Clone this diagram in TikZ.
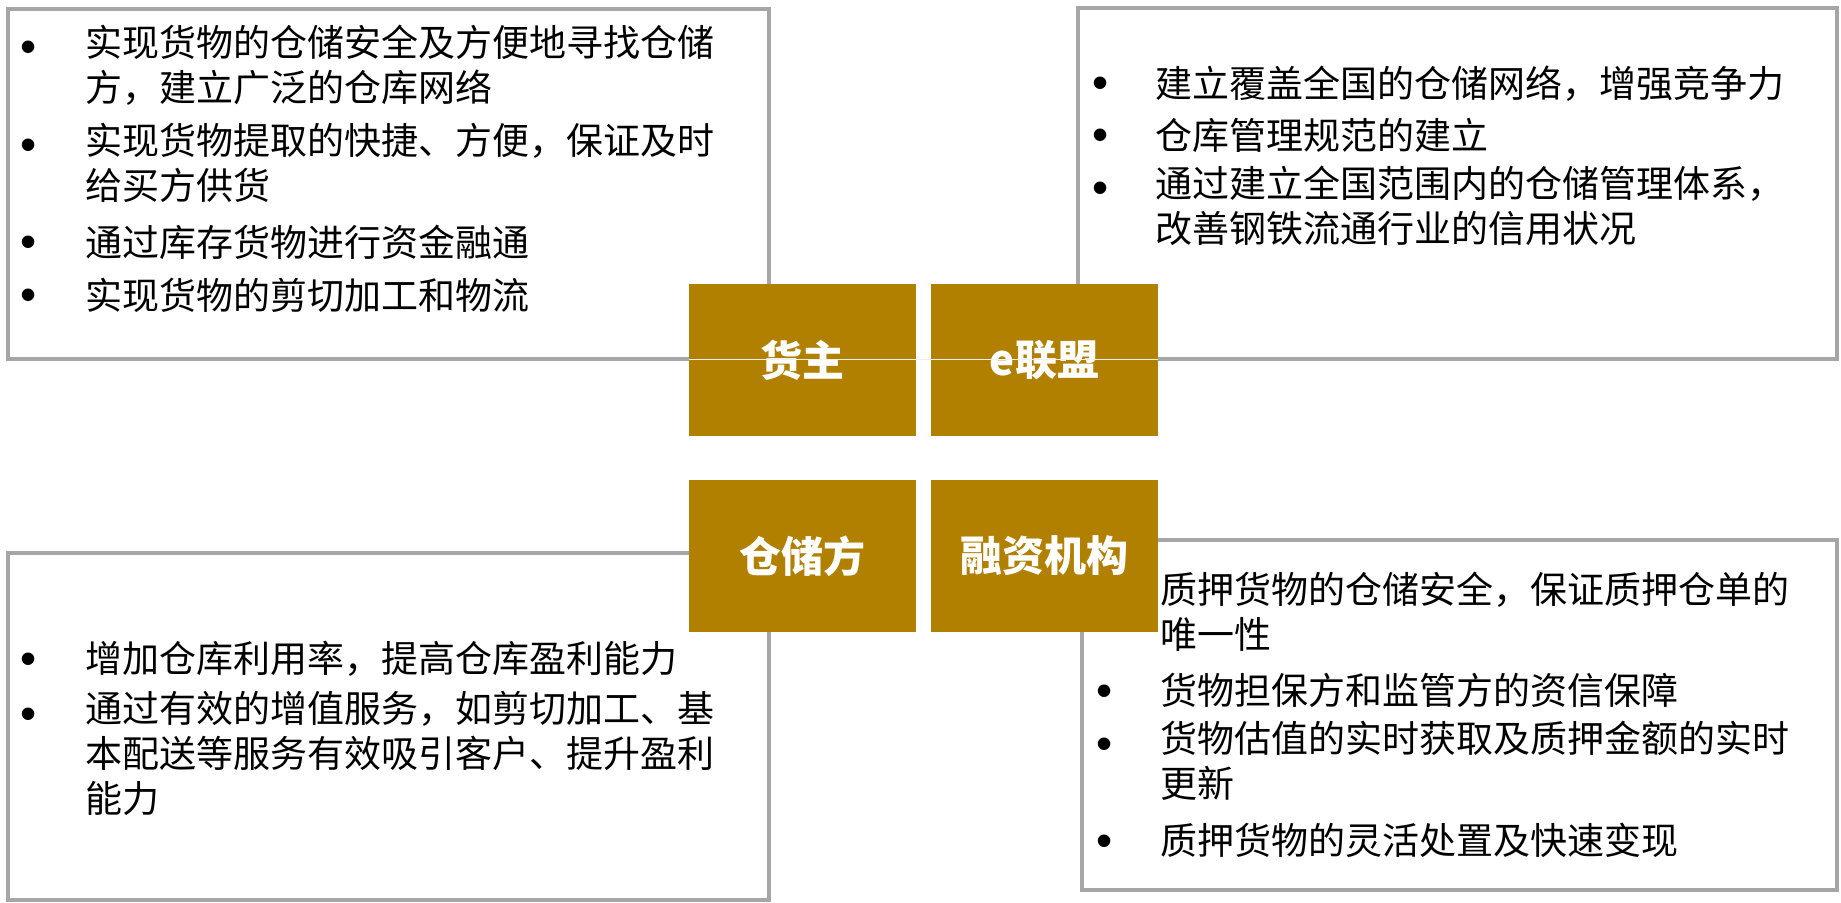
\documentclass[tikz,border=0pt]{standalone}
\usepackage{fontspec}
\newfontfamily\cjk{Noto Sans CJK SC}
\newfontfamily\dotfont{Liberation Sans}
\definecolor{boxgray}{RGB}{166,166,166}
\definecolor{gold}{RGB}{178,128,0}
\begin{document}
\begin{tikzpicture}[x=0.5pt, y=-0.5pt,
    panel/.style = {draw=boxgray, line width=2pt, inner sep=0},
    party/.style = {fill=gold, text=white, minimum width=113.5pt, minimum height=76pt, inner sep=0, font=\cjk\bfseries\fontsize{21pt}{25pt}\selectfont},
    item/.style = {anchor=north west, inner sep=0, align=left, font=\cjk\fontsize{18.5pt}{22.5pt}\selectfont, execute at begin node={\rule{0pt}{18pt}}},
    bullet/.style = {anchor=base, inner sep=0, yshift=-1pt, font=\dotfont\fontsize{23pt}{25pt}\selectfont}]
    \useasboundingbox (0,0) rectangle (1841,903);
    % panels
    \node[panel, minimum width=380.5pt, minimum height=175pt] (tl) at (388.5,184) {};
    \node[panel, minimum width=379.5pt, minimum height=175.5pt] (tr) at (1457.5,183.5) {};
    \node[panel, minimum width=380.5pt, minimum height=173.5pt] (bl) at (388.5,726.5) {};
    \node[panel, minimum width=377.5pt, minimum height=175pt] (br) at (1459.5,715) {};
    % goods owner (text top = baseline - 36)
    \node[bullet] (tlb1) at (29,61) {•};
    \node[item] (tl1) at (85,25) {实现货物的仓储安全及方便地寻找仓储\\方，建立广泛的仓库网络};
    \node[bullet] (tlb2) at (29,159) {•};
    \node[item] (tl2) at (85,123) {实现货物提取的快捷、方便，保证及时\\给买方供货};
    \node[bullet] (tlb3) at (29,256) {•};
    \node[item] (tl3) at (85,220) {通过库存货物进行资金融通};
    \node[bullet] (tlb4) at (29,309) {•};
    \node[item] (tl4) at (85,273) {实现货物的剪切加工和物流};
    % e alliance
    \node[bullet] (trb1) at (1101,97) {•};
    \node[item] (tr1) at (1155,61) {建立覆盖全国的仓储网络，增强竞争力};
    \node[bullet] (trb2) at (1101,149) {•};
    \node[item] (tr2) at (1155,113) {仓库管理规范的建立};
    \node[bullet] (trb3) at (1101,202) {•};
    \node[item] (tr3) at (1155,166) {通过建立全国范围内的仓储管理体系，\\改善钢铁流通行业的信用状况};
    % warehouse
    \node[bullet] (blb1) at (29,672) {•};
    \node[item] (bl1) at (85,636) {增加仓库利用率，提高仓库盈利能力};
    \node[bullet] (blb2) at (29,727) {•};
    \node[item] (bl2) at (85,691) {通过有效的增值服务，如剪切加工、基\\本配送等服务有效吸引客户、提升盈利\\能力};
    % financing
    \node[item] (br1) at (1160,572) {质押货物的仓储安全，保证质押仓单的\\唯一性};
    \node[bullet] (brb2) at (1105,704) {•};
    \node[item] (br2) at (1160,668) {货物担保方和监管方的资信保障};
    \node[bullet] (brb3) at (1105,757) {•};
    \node[item] (br3) at (1160,721) {货物估值的实时获取及质押金额的实时\\更新};
    \node[bullet] (brb4) at (1105,854) {•};
    \node[item] (br4) at (1160,818) {质押货物的灵活处置及快速变现};
    % the four parties
    \node[party] (huozhu) at (802.5,360) {货主};
    \node[party] (elianmeng) at (1044.5,360) {e联盟};
    \node[party] (cangchu) at (802.5,556) {仓储方};
    \node[party] (rongzi) at (1044.5,556) {融资机构};
    \draw[white!88!gray, line width=0.5pt] (huozhu.west) -- (elianmeng.east);
\end{tikzpicture}
\end{document}
